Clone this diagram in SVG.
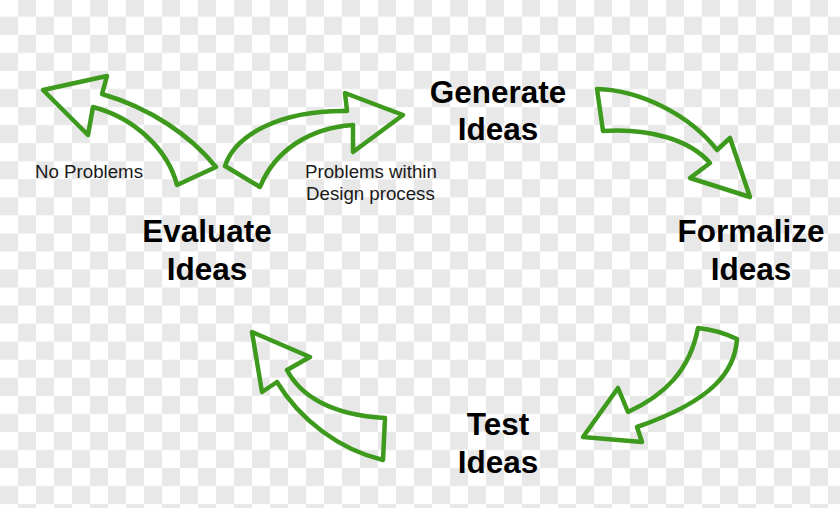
<svg xmlns="http://www.w3.org/2000/svg" width="840" height="508" viewBox="0 0 840 508">
  <style>
    .lbl { font-family: "Liberation Sans", Arial, sans-serif; font-weight: bold; font-size: 31.5px; fill: #000; text-anchor: middle; }
    .note { font-family: "Liberation Sans", Arial, sans-serif; font-size: 18.7px; fill: #1a1a1a; }
    .arrow { fill: none; stroke: #3d9a1d; stroke-width: 4.5; stroke-linejoin: round; stroke-linecap: round; }
  </style>
  <defs>
    <pattern id="checker" patternUnits="userSpaceOnUse" x="0" y="-1.25" width="36" height="36.1">
      <rect x="0" y="0" width="36" height="36.1" fill="#ffffff"/>
      <rect x="18" y="0" width="18" height="18.05" fill="#e8e8e8"/>
      <rect x="0" y="18.05" width="18" height="18.05" fill="#e8e8e8"/>
    </pattern>
  </defs>
  <rect x="0" y="0" width="840" height="508" fill="url(#checker)"/>

  <g id="connectors">
    <path id="arrow-no-problems" class="arrow" d="M43,90 L107,76 L102,94 C150,108 190,135 216,167 L177,185 C168,150 135,118 93,107 L88,135 Z"/>
    <path id="arrow-problems-within" class="arrow" d="M225,166 C235,135 280,110 347,111 L345,93 L403,115 L353,152 L353,125 C310,128 275,150 260,187 Z"/>
    <path id="arrow-generate-formalize" class="arrow" d="M597,89 C640,90 690,115 717,150 L730,138 L750,197 L690,178 L710,163 C690,140 650,128 603,131 Z"/>
    <path id="arrow-formalize-test" class="arrow" d="M698,328 Q718,330 737,339 C735,370 715,400 637,427 L642,442 L583,437 L618,388 L628,412 C665,395 690,370 698,328 Z"/>
    <path id="arrow-test-evaluate" class="arrow" d="M252,332 L310,357 L287,370 C300,395 330,415 385,418 L383,460 C340,450 300,420 277,382 L262,392 Z"/>
  </g>

  <g id="generate">
    <text class="lbl" x="498" y="103">Generate</text>
    <text class="lbl" x="498" y="140">Ideas</text>
  </g>
  <g id="formalize">
    <text class="lbl" x="751" y="242">Formalize</text>
    <text class="lbl" x="751" y="280">Ideas</text>
  </g>
  <g id="test">
    <text class="lbl" x="498" y="435">Test</text>
    <text class="lbl" x="498" y="473">Ideas</text>
  </g>
  <g id="evaluate">
    <text class="lbl" x="207" y="242">Evaluate</text>
    <text class="lbl" x="207" y="280">Ideas</text>
  </g>
  <g id="no-problems">
    <text class="note" x="35" y="178">No Problems</text>
  </g>
  <g id="problems-within">
    <text class="note" x="305" y="178">Problems within</text>
    <text class="note" x="306" y="200">Design process</text>
  </g>
</svg>
